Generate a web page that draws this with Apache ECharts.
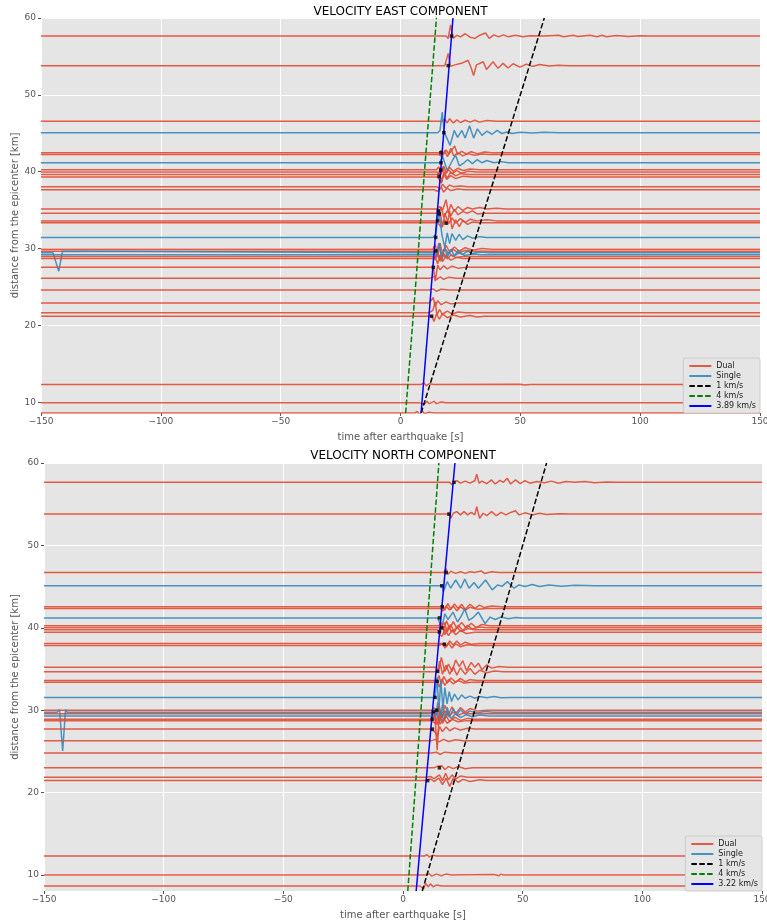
<!DOCTYPE html>
<html>
<head>
<meta charset="utf-8">
<script src="https://cdn.jsdelivr.net/npm/echarts@6/dist/echarts.min.js"></script>
<style>
html, body { margin: 0; padding: 0; background: #ffffff; }
#chart { width: 767px; height: 922px; }
</style>
</head>
<body>
<div id="chart"></div>
<script>
// ---- East component: station distances [km], sensor type, waveform (time [s], offset [km]) pairs ----
const eastDist = [57.65, 53.8, 46.55, 45.07, 42.45, 42.25, 41.16, 40.25, 39.95, 39.65, 39.3, 38.05, 37.65,
  35.15, 34.6, 33.6, 33.35, 31.45, 29.9, 29.65, 29.45, 29.2, 28.95, 28.7, 27.55, 26.15, 24.6, 22.9, 21.65, 21.2,
  12.3, 9.92, 8.6];
const eastKind = ['Dual', 'Dual', 'Dual', 'Single', 'Dual', 'Dual', 'Single', 'Dual', 'Dual', 'Dual', 'Dual', 'Dual', 'Dual',
  'Dual', 'Dual', 'Dual', 'Dual', 'Single', 'Dual', 'Dual', 'Single', 'Single', 'Dual', 'Dual', 'Dual', 'Dual', 'Dual', 'Dual', 'Dual', 'Dual',
  'Dual', 'Dual', 'Dual'];
const eastWave = [
  [19, 0, 19.9, -0.3, 20.9, 1.45, 22, -0.3, 23.5, 0.1, 25, -0.1, 27, 0.3, 29, -0.15, 31, -0.3, 33, 0.1, 35.5, 0.4, 37, -0.3, 39, 0.15, 41, -0.1, 43, 0.15, 45, -0.1, 48, 0.1, 51, -0.1, 54, 0.05, 60, 0, 66, 0.1, 68, -0.1, 72, 0.1, 74, -0.05, 79, 0.1, 82, -0.1, 84, 0.1, 86, -0.1, 90, 0.08, 95, -0.05, 100, 0.05, 104, 0],
  [18.5, 0, 19.9, 1.6, 20.9, -0.1, 22.7, 0.1, 25.4, 0.3, 28.2, 0.7, 29.5, -0.3, 30.5, -1.3, 31.7, 0.1, 34.5, 0.5, 35.9, -0.5, 38.6, 0.5, 40.7, -0.35, 42.8, 0.3, 44.9, -0.3, 47, 0.25, 49.8, -0.2, 52.6, 0.2, 55, -0.1, 58, 0.15, 62, -0.05, 66, 0.05, 70, 0],
  [17.5, 0, 18.5, 0.3, 19.5, -0.2, 20.5, 0.35, 22, -0.2, 23.5, 0.2, 25, -0.15, 27, 0.15, 29, -0.1, 31, 0.15, 33, -0.1, 36, 0.1, 40, 0],
  [15.5, 0, 16.5, 0.3, 17.4, 2.7, 18.3, 0, 19.2, -0.6, 20.7, -1.65, 22.4, 0.3, 23.8, -0.6, 25.6, 0.3, 27, -0.7, 28.8, 0.9, 30.5, -0.7, 32.1, 0.5, 34, -0.35, 36, 0.2, 38.2, -0.2, 40.3, 0.3, 42.3, -0.1, 44.4, 0.1, 46.5, -0.1, 50, 0.05, 55, -0.05, 60, 0.05, 66, 0],
  [16, 0, 16.9, 0.3, 17.8, -0.3, 19, 0.4, 20.2, -0.2, 21.3, 0.3, 22.6, 0.9, 23.8, -0.2, 25.5, 0.2, 27.5, -0.15, 29.5, 0.15, 32, -0.1, 35, 0.1, 38, 0],
  [16, 0, 17.2, -0.3, 18.4, 0.5, 19.6, -0.3, 21, 0.8, 22.2, -0.2, 24, 0.2, 26, -0.2, 28, 0.1, 31, -0.1, 34, 0.05, 37, 0],
  [16.5, 0, 17.5, 0.9, 19.5, -1.0, 21.5, 0.2, 23, 1.0, 24.5, -0.4, 26.5, 0, 28, 0.4, 30, -0.1, 32, 0.4, 34, 0, 36, 0.3, 39, 0, 42, 0.15, 45, 0],
  [15, 0, 16, 0.4, 17, -0.6, 18, 0.5, 19.2, -0.4, 20.5, 0.3, 22, -0.2, 24, 0.2, 26, -0.1, 29, 0.1, 33, 0],
  [15.5, 0, 16.5, -0.5, 17.5, 0.7, 18.5, -0.3, 20, 0.3, 21.5, -0.2, 23.5, 0.2, 25.5, -0.15, 28, 0.1, 32, 0],
  [15.5, 0, 16.3, 0.5, 17.2, -1.0, 18.2, 0.3, 19.5, -0.5, 21, 0.3, 23, -0.2, 25, 0.1, 28, 0],
  [15.5, 0, 16.1, 0, 17, -0.8, 18, 0.4, 19.3, -0.3, 21, 0.2, 23, -0.2, 26, 0.1, 30, 0],
  [15, 0, 16.5, -0.3, 17.5, 0.3, 19, -0.2, 20.5, 0.2, 22, 0, 25, 0.1, 28, 0],
  [14, 0, 15.5, -0.2, 17, 0.3, 18, -0.3, 19.5, 0.2, 21, -0.1, 24, 0.1, 27, 0],
  [15, 0, 16.5, 0.3, 17.5, -0.2, 19, 1.2, 20, -0.5, 21, 0.6, 22.5, -0.3, 24, 0.3, 26, -0.2, 28, 0.2, 30, 0, 33, 0.2, 36, 0, 40, 0.1, 44, 0],
  [15, 0, 16, 0.1, 17, 0.8, 18, -0.5, 19.5, 0.3, 21, -0.3, 22.5, 0.5, 24, -0.2, 26, 0.2, 28, 0, 30, 0.3, 32, -0.1, 35, 0],
  [14.5, 0, 15.5, 0.2, 16.5, 1.3, 17.5, -0.8, 18.5, 1.0, 20, -0.4, 21.5, 0.4, 23, -0.3, 25, 0.3, 27, -0.2, 29, 0.2, 32, 0, 36, 0.15, 40, 0],
  [15.5, 0, 17, -0.6, 18.5, 0.4, 19.5, -0.2, 20.5, 1.5, 21.5, -0.8, 23, 0.4, 24.5, -0.5, 26, 0.3, 28, -0.2, 30, 0.1, 33, 0],
  [13.5, 0, 14.7, 0.4, 16, 3.6, 17.3, 0.3, 18.5, -1.3, 19.5, 0.6, 20.5, -0.8, 21.5, 0.5, 23, -0.4, 24.5, 0.4, 26, -0.3, 28, 0.2, 30, -0.1, 33, 0.1, 36, 0],
  [13.5, 0, 14.5, 0.6, 15.5, -0.9, 16.5, 0.8, 17.5, -0.5, 19, 0.5, 20.5, -0.3, 22.5, 0.3, 24.5, -0.2, 27, 0.2, 30, -0.1, 34, 0.1, 38, 0],
  [14, 0, 15, -0.5, 16, 1.1, 17, -0.6, 18.5, 0.4, 20, -0.3, 22, 0.25, 24, -0.2, 27, 0.1, 31, 0],
  [-145, 0, -144.3, 0.2, -142.6, -2.4, -141, 0.2, -140.5, 0, 14, 0, 15, -0.6, 16.2, 1.2, 17.3, -1.0, 18.5, 0.8, 19.5, -0.6, 21, 0.5, 22.5, -0.4, 24, 0.3, 26, -0.2, 28, 0.2, 30, -0.1, 33, 0.1, 37, 0],
  [14, 0, 15, 0.4, 16, -0.5, 17, 0.3, 18.5, -0.3, 20, 0.3, 22, -0.2, 24.5, 0.2, 27, -0.1, 30, 0.1, 34, 0],
  [13.5, 0, 14.5, -0.4, 15.5, 0.6, 16.5, -0.6, 18, 0.4, 19.5, -0.3, 21, 0.2, 23, -0.1, 26, 0],
  [13.5, 0, 14.5, 0.3, 15.5, -0.7, 16.5, 0.4, 17.5, -0.4, 19, 0.3, 21, -0.2, 23.5, 0.15, 26, 0],
  [12.5, 0, 13.7, 0, 14.5, -1.8, 15.5, 0.3, 16.5, -0.3, 18, 0.2, 19.5, -0.2, 21.5, 0.15, 24, -0.1, 27, 0],
  [12.5, 0, 14, 0.2, 15, -0.2, 16.5, 0.15, 18, -0.15, 20, 0.1, 23, 0],
  [12, 0, 13.5, 0.15, 15, -0.15, 17, 0.1, 20, 0],
  [12, 0, 13.7, 0.75, 14.4, -0.4, 15.5, 0.3, 17, -0.2, 19, 0.15, 21, -0.1, 24, 0],
  [12, 0, 13.5, 0.3, 14.5, 1.4, 15.2, -0.3, 16.3, 0.4, 17.5, -0.2, 19.5, 0.2, 21.5, -0.15, 24, 0.1, 27, 0],
  [12, 0, 13, 0, 14, -0.7, 15, 0.3, 16.2, -0.4, 17.5, 0.3, 19.5, -0.2, 22, 0.15, 25, -0.1, 29, 0.1, 32, -0.1, 35, 0],
  [8.5, 0, 9.8, 0.2, 10.8, -0.15, 12, 0.1, 14, 0, 50, 0.05, 52, -0.05, 54, 0],
  [8, 0, 10, -0.15, 11, 0.2, 12, -0.1, 14, 0.2, 15, -0.1, 17, 0.1, 19, 0],
  [6, 0, 7, 0.2, 8, -0.3, 9, 0.3, 10, -0.1, 12, 0.1, 14, 0]
];
// picked arrivals (time [s], distance [km])
const eastPicks = [[21.3, 57.65], [19.9, 53.8], [18.1, 45.07], [16.9, 42.45], [16.9, 41.16], [16.8, 40.2], [16.1, 39.4],
  [15.8, 34.9], [16.2, 34.5], [15.5, 33.6], [19.0, 33.3], [14.7, 31.45], [14.7, 29.7], [13.7, 27.55], [13.0, 21.2]];
// moveout lines (time [s], distance [km])
const eastLine1 = [[8.6, 8.6], [60, 60]];
const eastLine4 = [[2.15, 8.6], [15, 60]];
const eastLineFit = [[8.6, 8.6], [21.9, 60]];
const eastFitLabel = '3.89 km/s';

// ---- North component ----
const northDist = [57.65, 53.8, 46.7, 45.1, 42.55, 42.35, 41.2, 40.25, 40.0, 39.75, 39.45, 38.1, 37.85,
  35.2, 34.65, 33.6, 33.4, 31.55, 30.0, 29.75, 29.55, 29.3, 28.9, 28.7, 27.7, 26.3, 24.8, 23.0, 21.85, 21.45,
  12.3, 10.0, 8.67];
const northKind = ['Dual', 'Dual', 'Dual', 'Single', 'Dual', 'Dual', 'Single', 'Dual', 'Dual', 'Dual', 'Dual', 'Dual', 'Dual',
  'Dual', 'Dual', 'Dual', 'Dual', 'Single', 'Dual', 'Single', 'Dual', 'Single', 'Dual', 'Dual', 'Dual', 'Dual', 'Dual', 'Dual', 'Dual', 'Dual',
  'Dual', 'Dual', 'Dual'];
const northWave = [
  [19.5, 0, 20.5, -0.3, 21.3, 0, 22.5, 0.2, 24, -0.1, 26, 0.15, 28, -0.1, 30, 0.2, 30.8, 1.0, 31.8, -0.1, 33, 0.15, 35, -0.15, 37, 0.3, 38.5, -0.2, 40.5, 0.25, 42, 0, 43.5, 0.5, 45, -0.2, 47, 0.3, 49, -0.15, 51, 0.2, 53, -0.1, 56, 0.1, 59, -0.05, 62, 0.15, 65, -0.1, 68, 0.1, 72, 0, 76, 0.1, 80, -0.05, 85, 0.05, 90, 0],
  [18, 0, 19.2, 0, 20, -0.5, 21, 0.1, 22.5, 0.3, 24, -0.1, 25.5, 0.3, 27, -0.1, 28.5, 0.2, 30, -0.1, 30.8, 0.9, 32, -0.5, 33.5, 0.1, 35, -0.2, 37, 0.3, 39, -0.2, 41, 0.2, 43, -0.1, 45, 0.2, 47, 0.4, 48.5, -0.1, 51, 0.15, 54, -0.1, 57, 0.1, 60, -0.05, 65, 0.05, 70, 0],
  [17, 0, 18, 0.5, 18.8, -0.2, 20, 0.15, 22, -0.1, 24, 0.1, 26, -0.1, 28, 0.1, 30, 0, 32.6, 0.2, 34, -0.1, 37, 0.1, 40, 0],
  [15, 0, 16.2, 0, 16.9, -0.7, 18.5, 0.5, 19.9, -0.3, 22, 0.7, 24.1, -0.3, 25.8, 0.8, 27.6, -0.3, 29.7, 0.4, 31.5, -0.3, 34.5, 0.7, 37.3, -0.5, 39.5, 0.1, 41.5, -0.05, 43.6, 0.5, 46.4, -0.3, 48.5, 0.1, 51, -0.1, 54, 0.15, 57, -0.1, 61, 0.1, 66, -0.05, 72, 0.05, 80, 0],
  [15.5, 0, 16.4, 0.2, 17.5, -0.4, 18.7, 0.4, 20, -0.3, 21.5, 0.35, 23, -0.2, 24.5, 0.3, 26, -0.3, 28, 0.3, 30, -0.2, 32, 0.2, 34, -0.1, 37, 0.1, 41, 0],
  [15.5, 0, 16.8, -0.3, 18, 0.3, 19.5, -0.2, 21, 0.3, 22.5, -0.3, 24, 0.2, 26, -0.2, 28, 0.15, 31, -0.1, 35, 0],
  [14.5, 0, 15.2, 0, 16.2, -1.2, 17.5, 0.5, 18.8, -0.2, 20.9, 0.7, 22.8, -0.5, 24.5, 0.3, 25.8, 1.1, 27.5, -0.3, 29.5, 0.1, 31.5, 0.7, 34.3, -0.7, 36.4, 0.1, 38.5, -0.2, 41, 0.1, 44, -0.1, 47, 0.05, 50, 0],
  [15, 0, 16, 0.4, 17, -0.5, 18.2, 0.6, 19.5, -0.4, 21, 0.5, 22.5, -0.3, 24.5, 0.4, 26.5, -0.3, 28.5, 0.3, 30.5, -0.2, 33, 0.15, 36, 0],
  [15.5, 0, 16.2, 0, 17.3, 0.6, 18.5, -0.5, 19.8, 0.4, 21.5, -0.5, 23, 0.3, 25, -0.3, 27, 0.3, 29, -0.15, 32, 0.1, 35, 0],
  [14.5, 0, 15.5, -0.3, 16.5, 0.5, 17.5, -0.6, 19, 0.4, 20.5, -0.3, 22.5, 0.3, 24.5, -0.2, 27, 0.15, 30, 0],
  [14.5, 0, 15.2, 0, 16.3, -0.5, 17.5, 0.4, 19, -0.4, 20.5, 0.3, 22, -0.3, 24, 0.2, 26.5, -0.15, 30, 0],
  [16, 0, 17.3, 0, 18.2, -0.4, 19.5, 0.3, 21, -0.2, 22.5, 0.3, 24, -0.2, 26, 0.15, 28.5, -0.1, 32, 0],
  [15, 0, 16.5, 0.2, 17.5, -0.3, 19, 0.3, 20.5, -0.3, 22, 0.2, 24, -0.15, 27, 0.1, 30, 0],
  [13.5, 0, 14.3, 0, 15, -0.3, 16, 1.2, 17.5, -0.5, 19, 0.4, 20.5, -0.5, 22, 0.9, 23.5, 0.1, 25, 0.8, 26.5, -0.4, 28.5, 0.6, 30, 0, 31.5, 0.5, 33, -0.3, 35, 0.3, 37, -0.1, 40, 0.1, 44, 0],
  [13.5, 0, 14.5, 0, 15.3, 1.3, 16.5, -0.3, 18, 0.8, 19.5, -0.3, 21, 0.6, 22.5, -0.4, 24, 0.5, 26, -0.3, 28, 0.4, 30, -0.3, 32, 0.2, 35, -0.1, 38, 0.1, 42, 0],
  [13, 0, 14.2, 0, 15, 0.6, 16, -0.5, 17, 0.5, 18.5, -0.3, 20, 0.3, 22, -0.2, 24, 0.25, 26, -0.15, 28, 0.1, 31, 0],
  [13, 0, 14.3, 0, 15.2, -0.6, 16.2, 0.4, 17.5, -0.4, 19, 0.3, 21, -0.2, 23, 0.2, 25.5, -0.1, 29, 0],
  [12.5, 0, 13.4, 0, 14.2, 2.4, 15, -1.6, 15.8, 2.0, 16.7, -1.3, 17.5, 1.2, 18.4, -0.8, 19.3, 0.7, 20.3, -0.5, 21.5, 0.4, 23, -0.3, 24.5, 0.3, 26, -0.1, 28, 0.15, 30, -0.1, 32, 0.1, 35, -0.05, 38, 0.1, 41, -0.05, 45, 0],
  [12, 0, 13, 0.3, 14.1, -0.6, 15, 0.8, 16.2, -0.9, 17.5, 0.6, 19, -0.5, 20.5, 0.4, 22, -0.4, 24, 0.3, 26, -0.2, 28, 0.2, 31, -0.1, 35, 0],
  [-144.5, 0, -143.5, 0.3, -142.2, -4.7, -141, 0.3, -140.3, 0, 11.5, 0, 12.7, 0, 13.5, -1.0, 14.5, 1.2, 15.5, -1.1, 16.5, 0.9, 17.5, -0.8, 18.5, 0.6, 19.5, -0.5, 21, 0.4, 22.5, -0.3, 24, 0.3, 26, -0.2, 28, 0.15, 31, -0.1, 34, 0.1, 38, 0],
  [12, 0, 13.2, 0.3, 14.3, -4.4, 15.2, 0.5, 16.2, -0.5, 17.5, 0.4, 19, -0.3, 21, 0.2, 23, -0.2, 25, 0.1, 28, 0],
  [13, 0, 14, 0.6, 15, -0.8, 16, 0.7, 17, -0.6, 18.5, 0.4, 20, -0.3, 22, 0.25, 24, -0.2, 26.5, 0.15, 29, -0.1, 32, 0.1, 36, 0],
  [11.5, 0, 12.2, 0, 13.2, 0.5, 14.2, -0.7, 15.3, 0.6, 16.5, -0.5, 18, 0.4, 19.5, -0.3, 21.5, 0.25, 24, -0.15, 27, 0.1, 30, 0],
  [12, 0, 13.5, -0.3, 14.5, 0.5, 15.5, -0.4, 17, 0.3, 18.5, -0.3, 20.5, 0.2, 23, -0.1, 26, 0],
  [11.5, 0, 12.3, 0, 13.5, -0.4, 14.3, -0.9, 15.3, 0.3, 16.5, -0.3, 18, 0.25, 19.5, -0.2, 21.5, 0.15, 24, -0.1, 27, 0.1, 30, 0],
  [12, 0, 13.5, 0.15, 15, -0.15, 17, 0.15, 19, -0.1, 22, 0.1, 25, 0],
  [12, 0, 14, 0.1, 15.5, -0.15, 17.5, 0.1, 21, 0],
  [13, 0, 14.5, 0.2, 15.2, 0, 16.2, 0.25, 17.5, -0.2, 19, 0.15, 21, -0.1, 23, 0.15, 26, -0.1, 29, 0],
  [10, 0, 11.5, 0.1, 13, -0.15, 15.2, 0.3, 16.5, -0.4, 17.8, 0.5, 19, -0.3, 20.5, 0.3, 22, -0.2, 24, 0.15, 27, 0],
  [9.5, 0, 10.3, 0, 11.5, 0.2, 13, -0.1, 15, 0.3, 16.5, -0.5, 18, 0.3, 19.5, -0.7, 21, 0.3, 23, -0.2, 25, 0.15, 28, -0.1, 32, 0.1, 35, 0],
  [9, 0, 10, 0.15, 11, -0.1, 12.5, 0.1, 14, 0],
  [10, 0, 11, 0.15, 12, -0.15, 14, 0.1, 16, -0.1, 18, 0.1, 20, 0, 38, 0.05, 40, -0.1, 41, 0.1, 42, 0],
  [7, 0, 7.8, 0.2, 8.6, -0.35, 9.5, 0.3, 10.5, -0.1, 11.5, 0.25, 12.5, -0.1, 14, 0.1, 16, 0]
];
const northPicks = [[21.3, 57.65], [19.2, 53.8], [18.0, 46.7], [16.2, 45.1], [16.4, 42.55], [15.2, 41.2], [16.2, 40.0],
  [15.2, 39.5], [17.3, 38.0], [14.5, 34.7], [14.3, 33.5], [13.4, 31.55], [12.7, 29.8], [14.1, 30.0], [12.2, 28.9],
  [12.3, 27.7], [15.2, 23.0], [10.3, 21.45]];
const northLine1 = [[8.05, 8.05], [60, 60]];
const northLine4 = [[2.0, 8.05], [15, 60]];
const northLineFit = [[5.5, 8.05], [21.7, 60]];
const northFitLabel = '3.22 km/s';

// axis limits and labels
const timeRange = [-150, 150];
const eastDistRange = [8.6, 60];
const northDistRange = [8.05, 60];
const titles = ['VELOCITY EAST COMPONENT', 'VELOCITY NORTH COMPONENT'];
const xLabel = 'time after earthquake [s]';
const yLabel = 'distance from the epicenter [km]';

// ---- styling ----
const FONT = 'DejaVu Sans';
const kindColor = { Dual: '#E24A33', Single: '#348ABD' };
const grids = [
  { left: 41, top: 18, width: 719, height: 395 },
  { left: 44, top: 463, width: 718, height: 428 }
];

function fmtTick(v) { return v < 0 ? '\u2212' + (-v) : String(v); }

function traceSeries(dist, kind, wave, gi) {
  const out = [];
  for (let i = 0; i < dist.length; i++) {
    const d = dist[i], w = wave[i];
    const pts = [[timeRange[0], d]];
    for (let j = 0; j < w.length; j += 2) pts.push([w[j], d + w[j + 1]]);
    pts.push([timeRange[1], d]);
    out.push({
      type: 'line', name: kind[i], xAxisIndex: gi, yAxisIndex: gi, data: pts,
      symbol: 'none', showSymbol: false, silent: true, animation: false, z: 2,
      lineStyle: { width: 1.5, color: kindColor[kind[i]], opacity: 0.9 },
      itemStyle: { color: kindColor[kind[i]] }
    });
  }
  return out;
}

function moveoutSeries(line1, line4, lineFit, fitLabel, gi) {
  const base = { type: 'line', xAxisIndex: gi, yAxisIndex: gi, symbol: 'none', showSymbol: false, silent: true, animation: false, z: 3 };
  return [
    Object.assign({}, base, { name: '1 km/s', data: line1, lineStyle: { width: 1.5, color: '#000000', type: [5.5, 2.4] }, itemStyle: { color: '#000000' } }),
    Object.assign({}, base, { name: '4 km/s', data: line4, lineStyle: { width: 1.5, color: '#008000', type: [5.5, 2.4] }, itemStyle: { color: '#008000' } }),
    Object.assign({}, base, { name: fitLabel, data: lineFit, lineStyle: { width: 1.5, color: '#0000FF' }, itemStyle: { color: '#0000FF' } })
  ];
}

function pickSeries(picks, gi) {
  return {
    type: 'scatter', xAxisIndex: gi, yAxisIndex: gi, data: picks, symbol: 'rect', symbolSize: 3.5,
    itemStyle: { color: '#000000' }, silent: true, animation: false, z: 4
  };
}

function xAxisDef(gi) {
  return {
    type: 'value', gridIndex: gi, min: timeRange[0], max: timeRange[1], interval: 50,
    name: xLabel, nameLocation: 'middle', nameGap: 19, nameMoveOverlap: false,
    nameTextStyle: { color: '#555555', fontSize: 10, fontFamily: FONT },
    axisLine: { show: false, onZero: false },
    axisTick: { show: true, length: 3, lineStyle: { color: '#555555' } },
    axisLabel: { color: '#555555', fontSize: 9, fontFamily: FONT, margin: 4, formatter: fmtTick },
    splitLine: { show: true, lineStyle: { color: '#ffffff', width: 1 } }
  };
}

function yAxisDef(gi, range, gap) {
  return {
    type: 'value', gridIndex: gi, min: range[0], max: range[1], splitNumber: 5,
    name: yLabel, nameLocation: 'middle', nameGap: gap, nameMoveOverlap: false,
    nameTextStyle: { color: '#555555', fontSize: 10, fontFamily: FONT },
    axisLine: { show: false, onZero: false },
    axisTick: { show: true, length: 3, lineStyle: { color: '#555555' } },
    axisLabel: { color: '#555555', fontSize: 9, fontFamily: FONT, margin: 5, showMinLabel: false },
    splitLine: { show: true, lineStyle: { color: '#ffffff', width: 1 } }
  };
}

function legendDef(fitLabel, right, bottom) {
  return {
    data: ['Dual', 'Single', '1 km/s', '4 km/s', fitLabel],
    orient: 'vertical', right: right, bottom: bottom,
    itemWidth: 22, itemHeight: 8, itemGap: 2, padding: [4, 4, 3, 5],
    itemStyle: { opacity: 0 },
    backgroundColor: '#E5E5E5', borderColor: '#cccccc', borderWidth: 1, borderRadius: 2,
    textStyle: { color: '#222222', fontSize: 8, fontFamily: FONT },
    selectedMode: false
  };
}

const chart = echarts.init(document.getElementById('chart'), null, { renderer: 'canvas' });
chart.setOption({
  backgroundColor: '#ffffff',
  animation: false,
  grid: grids.map(g => Object.assign({ show: true, backgroundColor: '#E5E5E5', borderWidth: 0, containLabel: false, outerBoundsMode: 'none' }, g)),
  xAxis: [xAxisDef(0), xAxisDef(1)],
  yAxis: [yAxisDef(0, eastDistRange, 21), yAxisDef(1, northDistRange, 24)],
  legend: [legendDef(eastFitLabel, 7, 509), legendDef(northFitLabel, 5, 31)],
  graphic: [
    { type: 'text', x: 400.5, y: 12, style: { text: titles[0], fill: '#000000', font: '12px "DejaVu Sans"', textAlign: 'center', textVerticalAlign: 'middle' } },
    { type: 'text', x: 403, y: 456, style: { text: titles[1], fill: '#000000', font: '12px "DejaVu Sans"', textAlign: 'center', textVerticalAlign: 'middle' } }
  ],
  series: [].concat(
    traceSeries(eastDist, eastKind, eastWave, 0),
    moveoutSeries(eastLine1, eastLine4, eastLineFit, eastFitLabel, 0),
    [pickSeries(eastPicks, 0)],
    traceSeries(northDist, northKind, northWave, 1),
    moveoutSeries(northLine1, northLine4, northLineFit, northFitLabel, 1),
    [pickSeries(northPicks, 1)]
  )
});
</script>
</body>
</html>
